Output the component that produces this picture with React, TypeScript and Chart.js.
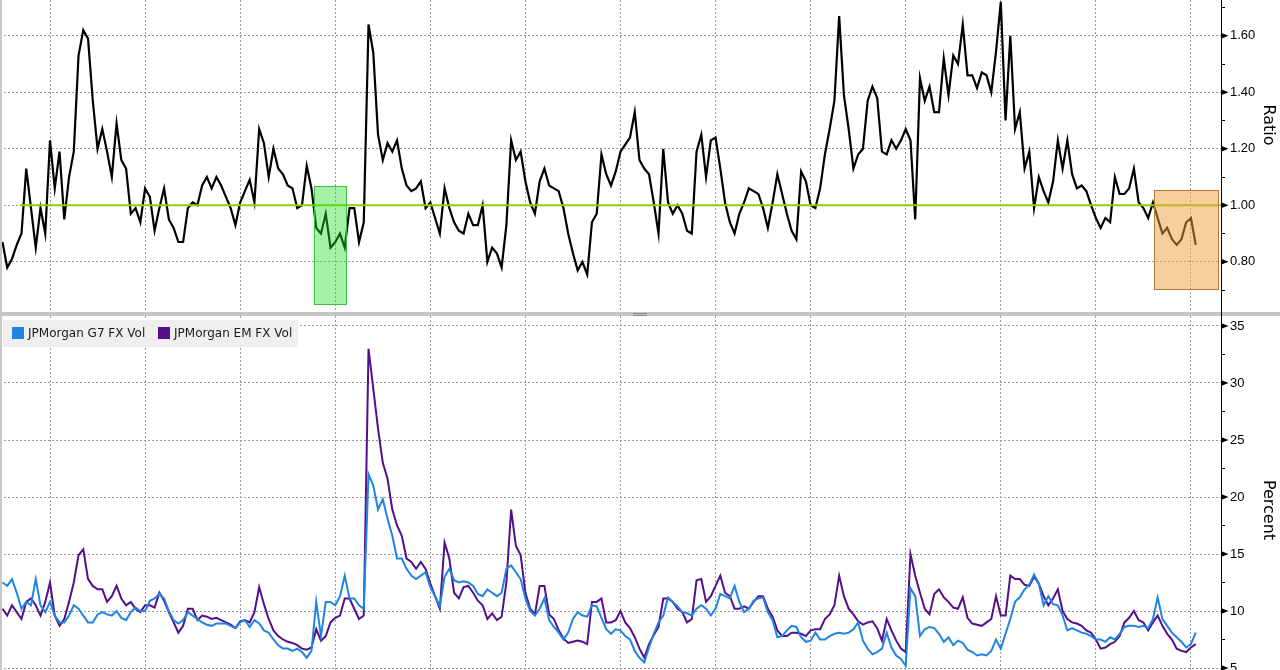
import React, { useEffect, useRef } from "react";
import { Chart, registerables } from "chart.js";

Chart.register(...registerables);

// ---- time axis (fractional years), one observation every STEP_YEARS ----
const START_YEAR = 2004.5;
const STEP_YEARS = 0.05;
const X_MIN = 2004.474;
const X_MAX = 2017.316;
const yearGridlines = [2005, 2006, 2007, 2008, 2009, 2010, 2011, 2012, 2013, 2014, 2015, 2016, 2017];

// ---- top panel: EM / G7 vol ratio ----
const ratioValues = [
  0.87, 0.78, 0.81, 0.86, 0.9, 1.13, 0.99, 0.85, 0.99, 0.9,
  1.23, 1.06, 1.19, 0.95, 1.1, 1.19, 1.53, 1.62, 1.59, 1.37,
  1.2, 1.27, 1.19, 1.1, 1.29, 1.16, 1.13, 0.97, 0.99, 0.94,
  1.06, 1.03, 0.91, 0.99, 1.06, 0.95, 0.92, 0.87, 0.87, 0.99,
  1.01, 1.0, 1.07, 1.1, 1.06, 1.1, 1.07, 1.03, 0.99, 0.93,
  1.01, 1.05, 1.09, 1.01, 1.27, 1.22, 1.1, 1.2, 1.13, 1.11,
  1.07, 1.06, 0.99, 1.0, 1.14, 1.06, 0.92, 0.9, 0.97, 0.85,
  0.87, 0.9, 0.85, 0.99, 0.99, 0.87, 0.94, 1.64, 1.54, 1.25,
  1.16, 1.22, 1.19, 1.23, 1.13, 1.07, 1.05, 1.06, 1.085, 0.99,
  1.01, 0.955, 0.9, 1.06, 0.99, 0.94, 0.91, 0.9, 0.97, 0.93,
  0.93, 1.0, 0.8, 0.85, 0.83, 0.78, 0.93, 1.23, 1.16, 1.19,
  1.085, 1.01, 0.97, 1.085, 1.13, 1.07, 1.06, 1.05, 0.99, 0.9,
  0.83, 0.77, 0.8, 0.755, 0.94, 0.97, 1.18, 1.11, 1.07, 1.12,
  1.19, 1.215, 1.24, 1.33, 1.16, 1.13, 1.11, 1.01, 0.9, 1.2,
  1.01, 0.97, 1.0, 0.97, 0.91, 0.9, 1.19, 1.25, 1.1, 1.23,
  1.24, 1.13, 1.01, 0.94, 0.9, 0.97, 1.01, 1.06, 1.05, 1.04,
  0.99, 0.92, 1.01, 1.11, 1.04, 0.97, 0.91, 0.88, 1.12, 1.085,
  1.0, 0.99, 1.06, 1.18, 1.27, 1.37, 1.67, 1.39, 1.27, 1.13,
  1.18, 1.2, 1.37, 1.42, 1.38, 1.19, 1.18, 1.23, 1.2, 1.23,
  1.27, 1.23, 0.95, 1.45, 1.37, 1.42, 1.33, 1.33, 1.52, 1.39,
  1.53, 1.5, 1.64, 1.46, 1.46, 1.415, 1.47, 1.46, 1.4, 1.545,
  1.72, 1.3, 1.6, 1.27, 1.33, 1.13, 1.19, 0.99, 1.1, 1.05,
  1.01, 1.085, 1.23, 1.13, 1.23, 1.11, 1.06, 1.07, 1.05, 1.0,
  0.955, 0.92, 0.955, 0.94, 1.1, 1.04, 1.04, 1.06, 1.13, 1.01,
  0.99, 0.955, 1.01, 0.955, 0.9, 0.92, 0.88, 0.86, 0.88, 0.94, 0.955, 0.86,
];

// ---- bottom panel: implied FX vol indices (percent) ----
const g7Vol = [
  12.5, 12.2, 12.8, 11.6, 10.2, 10.8, 10.5, 12.8, 10.5, 9.9,
  10.8, 9.6, 9.0, 9.0, 9.6, 10.5, 10.2, 9.6, 9.0, 9.0,
  9.7, 9.9, 9.7, 9.6, 10.0, 9.4, 9.2, 9.9, 10.3, 10.0,
  10.0, 10.9, 11.1, 11.5, 11.1, 10.0, 9.2, 8.9, 9.2, 9.9,
  9.6, 9.3, 9.0, 8.8, 8.7, 8.9, 8.9, 8.9, 8.7, 8.5,
  9.0, 9.2, 8.6, 9.2, 8.9, 8.3, 8.1, 7.5, 7.0, 6.7,
  6.7, 6.5, 6.7, 6.4, 5.9, 6.5, 10.8, 7.8, 10.8, 10.8,
  10.5, 11.3, 13.1, 11.1, 11.1, 10.5, 10.2, 22.0, 21.0, 18.9,
  19.8, 18.1, 16.6, 14.6, 14.6, 13.7, 13.1, 12.8, 13.1, 13.4,
  12.1, 11.3, 10.4, 13.0, 13.7, 12.7, 12.5, 12.6, 12.5, 12.2,
  11.5, 11.3, 11.9, 11.6, 11.3, 11.6, 13.7, 14.0, 13.4, 12.8,
  11.1, 10.0, 9.6, 10.2, 11.1, 9.2, 8.6, 8.1, 7.5, 8.1,
  9.3, 9.9, 9.6, 9.5, 10.5, 10.4, 9.4, 8.4, 8.0, 8.4,
  8.3, 7.8, 7.5, 6.5, 5.9, 5.5, 6.8, 8.0, 9.0, 9.6,
  11.2, 10.8, 10.4, 9.9, 9.8, 9.6, 10.2, 10.5, 10.2, 9.6,
  10.2, 11.5, 11.3, 11.1, 12.2, 10.8, 9.9, 10.2, 10.9, 11.1,
  11.2, 9.9, 9.2, 7.7, 7.8, 8.3, 8.7, 8.6, 7.7, 7.3,
  7.4, 8.1, 7.5, 7.5, 7.8, 8.0, 8.1, 8.0, 8.1, 8.4,
  9.0, 7.4, 6.7, 6.2, 6.4, 6.7, 8.1, 6.8, 6.1, 5.8,
  5.2, 12.0, 11.3, 7.8, 8.4, 8.6, 8.5, 8.0, 7.3, 7.7,
  7.0, 7.4, 7.2, 6.6, 6.4, 6.1, 6.2, 6.1, 6.5, 7.5,
  6.7, 8.0, 9.3, 10.8, 11.2, 11.9, 12.3, 13.2, 12.4, 10.5,
  11.3, 10.6, 10.5, 9.6, 8.3, 8.5, 8.3, 8.1, 8.0, 7.8,
  7.5, 7.5, 7.3, 7.7, 7.5, 8.0, 8.6, 8.7, 8.7, 8.6,
  8.7, 8.5, 9.3, 11.2, 9.3, 8.7, 8.1, 7.7, 7.3, 6.8, 7.1, 8.1,
];

const emVol = [
  10.2, 9.6, 10.5, 9.9, 9.3, 10.8, 11.1, 10.5, 9.6, 10.8,
  12.5, 9.6, 8.7, 9.3, 10.8, 12.5, 14.9, 15.4, 12.8, 12.2,
  11.9, 11.9, 10.8, 11.3, 12.2, 11.1, 10.5, 10.8, 10.2, 9.9,
  10.5, 10.5, 10.3, 11.6, 10.9, 9.9, 9.0, 8.1, 8.7, 10.2,
  10.2, 9.2, 9.6, 9.5, 9.3, 9.4, 9.2, 9.0, 8.8, 8.5,
  9.1, 9.2, 9.0, 9.9, 12.1, 10.6, 9.3, 8.3, 7.8, 7.5,
  7.3, 7.2, 7.0, 6.7, 6.6, 6.8, 8.4, 7.4, 7.8, 9.0,
  9.4, 9.6, 11.1, 11.1, 10.2, 9.3, 9.6, 33.0, 29.5, 26.0,
  23.0, 21.6, 18.9, 17.5, 16.6, 14.6, 14.3, 13.7, 14.3, 13.7,
  12.4, 11.3, 10.2, 16.0, 14.6, 11.6, 11.1, 12.1, 12.2, 11.6,
  10.9, 10.5, 9.3, 9.8, 9.2, 9.5, 12.5, 18.9, 15.7, 14.9,
  11.6, 10.2, 9.7, 12.2, 12.2, 9.7, 9.3, 8.3, 7.6, 7.2,
  7.3, 7.4, 7.3, 7.1, 10.8, 10.8, 11.1, 9.0, 9.0, 9.2,
  10.0, 9.0, 8.5, 7.7, 6.7, 5.9, 7.1, 7.9, 8.6, 11.1,
  11.1, 10.8, 10.2, 9.9, 9.0, 9.3, 12.7, 12.8, 10.8, 11.3,
  12.2, 13.1, 11.6, 11.3, 10.2, 10.2, 10.4, 10.2, 10.8, 11.3,
  11.3, 10.2, 9.5, 8.3, 7.8, 7.8, 8.1, 8.1, 8.0, 7.8,
  8.3, 8.4, 8.4, 9.3, 9.7, 10.5, 13.1, 11.3, 10.2, 9.7,
  9.1, 8.8, 9.0, 9.1, 8.5, 7.4, 9.3, 8.3, 7.4, 6.7,
  6.4, 15.0, 13.1, 11.6, 10.2, 9.7, 11.5, 11.9, 11.2, 10.8,
  10.3, 10.2, 11.2, 9.4, 8.9, 8.8, 8.7, 9.0, 9.3, 11.3,
  9.6, 9.6, 13.1, 12.8, 12.8, 12.3, 12.2, 13.0, 12.4, 11.3,
  10.5, 11.1, 11.9, 10.0, 9.3, 9.0, 8.9, 8.7, 8.3, 8.1,
  7.5, 6.7, 6.8, 7.1, 7.3, 7.8, 9.0, 9.4, 10.0, 9.2,
  9.0, 8.3, 9.0, 9.6, 8.7, 8.0, 7.5, 6.7, 6.5, 6.4, 6.8, 7.1,
];

const seriesNames = ["JPMorgan G7 FX Vol", "JPMorgan EM FX Vol"];

// ---- axes ----
const RATIO_MIN = 0.6223;
const RATIO_MAX = 1.7267;
const ratioTicks = [0.7, 0.8, 0.9, 1.0, 1.1, 1.2, 1.3, 1.4, 1.5, 1.6, 1.7];
const ratioLabels = [0.8, 1.0, 1.2, 1.4, 1.6];
const VOL_MIN = 4.825;
const VOL_MAX = 35.877;
const volTicks = [5, 7.5, 10, 12.5, 15, 17.5, 20, 22.5, 25, 27.5, 30, 32.5, 35];
const volLabels = [5, 10, 15, 20, 25, 30, 35];

// ---- annotations on the ratio panel ----
const PARITY_LEVEL = 1.0;
const PARITY_FROM = 2004.684;
const greenWindow = { from: 2007.776, to: 2008.113, low: 0.65, high: 1.067 };
const orangeWindow = { from: 2016.611, to: 2017.284, low: 0.705, high: 1.053 };

// ---- styling ----
const GRID = "#9a9a9a";
const TICK_FONT = "'Liberation Sans', Arial, sans-serif";
const LABEL_FONT = "'DejaVu Sans', Verdana, sans-serif";
const BLUE = "#1f84e2";
const PURPLE = "#530f8c";
const AXIS_W = 59;

const times = ratioValues.map((_, i) => START_YEAR + i * STEP_YEARS);
const pts = (vals: number[]) => vals.map((v, i) => ({ x: times[i], y: v }));

function xScale() {
  return {
    type: "linear",
    min: X_MIN,
    max: X_MAX,
    afterBuildTicks: (s: any) => {
      s.ticks = yearGridlines.map((v) => ({ value: v }));
    },
    afterFit: (s: any) => {
      s.height = 0;
      s.paddingLeft = 0;
      s.paddingRight = 0;
      s.paddingTop = 0;
      s.paddingBottom = 0;
    },
    ticks: { display: false },
    grid: { color: GRID, lineWidth: 1, drawTicks: false },
    border: { display: false, dash: [2, 2] },
  };
}

function yScale(min: number, max: number, ticks: number[], labels: number[], fmt: (v: number) => string) {
  const isLabel = (v: number) => labels.some((l) => Math.abs(l - v) < 1e-6);
  return {
    type: "linear",
    position: "right",
    min,
    max,
    afterBuildTicks: (s: any) => {
      s.ticks = ticks.map((v) => ({ value: v }));
    },
    afterFit: (s: any) => {
      s.width = AXIS_W;
      s.paddingTop = 0;
      s.paddingBottom = 0;
      s.paddingLeft = 0;
      s.paddingRight = 0;
    },
    ticks: {
      autoSkip: false,
      padding: 5,
      color: "#000",
      font: { family: TICK_FONT, size: 13 },
      callback: (v: any) => (isLabel(Number(v)) ? fmt(Number(v)) : ""),
    },
    grid: {
      color: (c: any) => (c.tick && isLabel(c.tick.value) ? GRID : "rgba(0,0,0,0)"),
      lineWidth: 1,
      drawTicks: true,
      tickLength: 4,
      tickColor: "#000",
      tickWidth: 1,
    },
    border: { display: true, color: "#000", width: 1, dash: [2, 2] },
  };
}

function axisDecor(title: string, titleY: number, labels: number[]) {
  return {
    id: "axisDecor",
    afterDraw(chart: any) {
      const ctx = chart.ctx;
      const ys = chart.scales.y;
      const ax = chart.chartArea.right;
      ctx.save();
      ctx.fillStyle = "#000";
      labels.forEach((v) => {
        const y = ys.getPixelForValue(v);
        ctx.beginPath();
        ctx.moveTo(ax, y - 3);
        ctx.lineTo(ax + 7.5, y);
        ctx.lineTo(ax, y + 3);
        ctx.closePath();
        ctx.fill();
      });
      ctx.translate(1268, titleY);
      ctx.rotate(Math.PI / 2);
      ctx.font = `16px ${LABEL_FONT}`;
      ctx.textAlign = "center";
      ctx.textBaseline = "middle";
      ctx.fillText(title, 0, 0);
      ctx.restore();
    },
  };
}

const windowsPlugin = {
  id: "windows",
  afterDatasetsDraw(chart: any) {
    const ctx = chart.ctx;
    const xs = chart.scales.x;
    const ys = chart.scales.y;
    const boxes = [
      { w: greenWindow, fill: "rgba(40,222,40,0.42)", stroke: "#3fbf3f" },
      { w: orangeWindow, fill: "rgba(242,158,58,0.5)", stroke: "#b8782e" },
    ];
    ctx.save();
    boxes.forEach(({ w, fill, stroke }) => {
      const x0 = Math.round(xs.getPixelForValue(w.from)) + 0.5;
      const x1 = Math.round(xs.getPixelForValue(w.to)) + 0.5;
      const y0 = Math.round(ys.getPixelForValue(w.high)) + 0.5;
      const y1 = Math.round(ys.getPixelForValue(w.low)) + 0.5;
      ctx.fillStyle = fill;
      ctx.fillRect(x0, y0, x1 - x0, y1 - y0);
      ctx.strokeStyle = stroke;
      ctx.lineWidth = 1;
      ctx.strokeRect(x0, y0, x1 - x0, y1 - y0);
    });
    ctx.restore();
  },
};

const legendPlugin = {
  id: "panelLegend",
  afterDraw(chart: any) {
    const ctx = chart.ctx;
    ctx.save();
    ctx.fillStyle = "#efefef";
    ctx.fillRect(3, 4, 295, 27);
    const items = [
      { name: seriesNames[0], color: BLUE, sx: 12, tx: 28 },
      { name: seriesNames[1], color: PURPLE, sx: 158, tx: 174 },
    ];
    ctx.font = `12px ${LABEL_FONT}`;
    ctx.textBaseline = "middle";
    ctx.textAlign = "left";
    items.forEach((it) => {
      ctx.fillStyle = it.color;
      ctx.fillRect(it.sx, 11, 12, 12);
      ctx.fillStyle = "#1a1a1a";
      ctx.fillText(it.name, it.tx, 18);
    });
    ctx.restore();
  },
};

const baseOptions = {
  responsive: false,
  maintainAspectRatio: false,
  animation: false,
  events: [],
  layout: { padding: 0 },
  plugins: { legend: { display: false }, tooltip: { enabled: false }, title: { display: false } },
  elements: { point: { radius: 0 }, line: { tension: 0 } },
};

export default function App() {
  const topRef = useRef<HTMLCanvasElement>(null);
  const botRef = useRef<HTMLCanvasElement>(null);

  useEffect(() => {
    const top = new Chart(topRef.current as HTMLCanvasElement, {
      type: "line",
      data: {
        datasets: [
          {
            label: "Parity",
            data: [
              { x: PARITY_FROM, y: PARITY_LEVEL },
              { x: X_MAX, y: PARITY_LEVEL },
            ],
            borderColor: "#86d400",
            borderWidth: 2,
            order: 0,
          },
          {
            label: "Ratio",
            data: pts(ratioValues),
            borderColor: "#000000",
            borderWidth: 2.2,
            order: 1,
          },
        ],
      },
      options: {
        ...baseOptions,
        scales: {
          x: xScale(),
          y: yScale(RATIO_MIN, RATIO_MAX, ratioTicks, ratioLabels, (v) => v.toFixed(2)),
        },
      } as any,
      plugins: [windowsPlugin, axisDecor("Ratio", 125, ratioLabels)],
    });

    const bottom = new Chart(botRef.current as HTMLCanvasElement, {
      type: "line",
      data: {
        datasets: [
          { label: seriesNames[0], data: pts(g7Vol), borderColor: BLUE, borderWidth: 2 },
          { label: seriesNames[1], data: pts(emVol), borderColor: PURPLE, borderWidth: 2 },
        ],
      },
      options: {
        ...baseOptions,
        scales: {
          x: xScale(),
          y: yScale(VOL_MIN, VOL_MAX, volTicks, volLabels, (v) => String(Math.round(v))),
        },
      } as any,
      plugins: [legendPlugin, axisDecor("Percent", 194, volLabels)],
    });

    return () => {
      top.destroy();
      bottom.destroy();
    };
  }, []);

  return (
    <div
      style={{
        position: "fixed",
        left: 0,
        top: 0,
        width: 1280,
        height: 670,
        background: "#ffffff",
        overflow: "hidden",
      }}
    >
      <canvas ref={topRef} width={1280} height={312} style={{ position: "absolute", left: 0, top: 0, display: "block" }} />
      <canvas ref={botRef} width={1280} height={354} style={{ position: "absolute", left: 0, top: 316, display: "block" }} />
      <div style={{ position: "absolute", left: 0, top: 312, width: 1280, height: 4, background: "#c6c6c6" }} />
      <div style={{ position: "absolute", left: 633, top: 313, width: 14, height: 1, background: "#8a8a8a" }} />
      <div style={{ position: "absolute", left: 633, top: 315, width: 14, height: 1, background: "#8a8a8a" }} />
      <div style={{ position: "absolute", left: 1221, top: 312, width: 1, height: 4, background: "#000" }} />
      <div style={{ position: "absolute", left: 0, top: 0, width: 2, height: 670, background: "#c8c8c8" }} />
    </div>
  );
}
